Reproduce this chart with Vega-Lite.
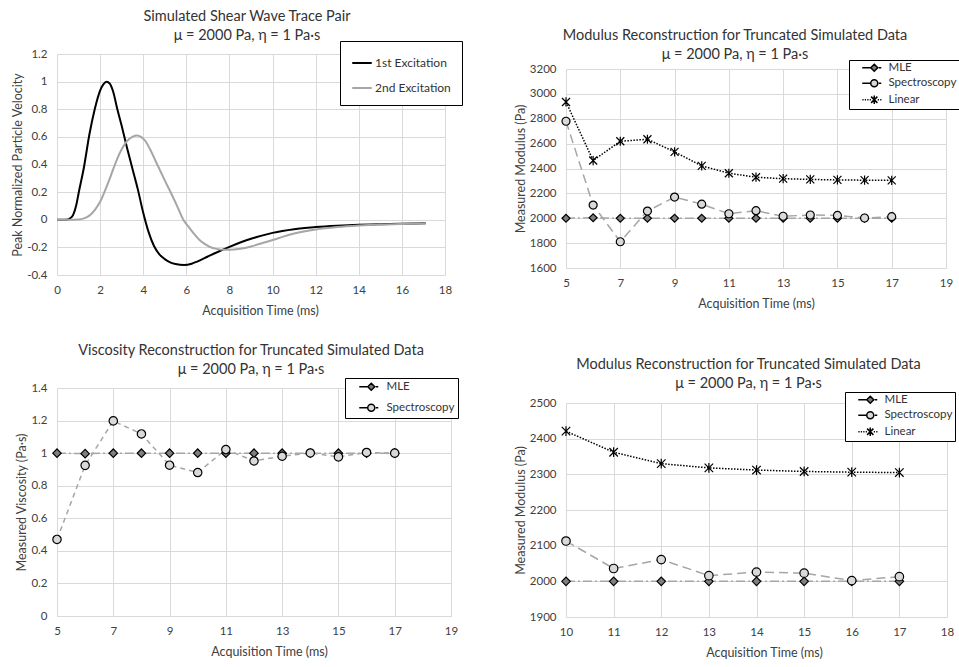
{
  "$schema": "https://vega.github.io/schema/vega-lite/v6.json",
  "background": "white",
  "padding": {"left": 11, "top": 8, "right": 0, "bottom": 0},
  "datasets": {
    "waves": [
      {"t": 0, "v": 0, "s": "1st Excitation"},
      {"t": 0.25, "v": 0, "s": "1st Excitation"},
      {"t": 0.5, "v": 0.002, "s": "1st Excitation"},
      {"t": 0.6, "v": 0.01, "s": "1st Excitation"},
      {"t": 0.75, "v": 0.035, "s": "1st Excitation"},
      {"t": 0.9, "v": 0.11, "s": "1st Excitation"},
      {"t": 1.0, "v": 0.19, "s": "1st Excitation"},
      {"t": 1.25, "v": 0.38, "s": "1st Excitation"},
      {"t": 1.5, "v": 0.615, "s": "1st Excitation"},
      {"t": 1.75, "v": 0.8, "s": "1st Excitation"},
      {"t": 2.0, "v": 0.935, "s": "1st Excitation"},
      {"t": 2.15, "v": 0.98, "s": "1st Excitation"},
      {"t": 2.3, "v": 1.0, "s": "1st Excitation"},
      {"t": 2.45, "v": 0.985, "s": "1st Excitation"},
      {"t": 2.6, "v": 0.93, "s": "1st Excitation"},
      {"t": 2.8, "v": 0.8, "s": "1st Excitation"},
      {"t": 3.0, "v": 0.68, "s": "1st Excitation"},
      {"t": 3.25, "v": 0.52, "s": "1st Excitation"},
      {"t": 3.5, "v": 0.37, "s": "1st Excitation"},
      {"t": 3.75, "v": 0.22, "s": "1st Excitation"},
      {"t": 4.0, "v": 0.05, "s": "1st Excitation"},
      {"t": 4.25, "v": -0.09, "s": "1st Excitation"},
      {"t": 4.5, "v": -0.19, "s": "1st Excitation"},
      {"t": 4.75, "v": -0.25, "s": "1st Excitation"},
      {"t": 5.0, "v": -0.285, "s": "1st Excitation"},
      {"t": 5.25, "v": -0.308, "s": "1st Excitation"},
      {"t": 5.5, "v": -0.321, "s": "1st Excitation"},
      {"t": 5.9, "v": -0.328, "s": "1st Excitation"},
      {"t": 6.25, "v": -0.318, "s": "1st Excitation"},
      {"t": 6.5, "v": -0.303, "s": "1st Excitation"},
      {"t": 7.0, "v": -0.266, "s": "1st Excitation"},
      {"t": 7.5, "v": -0.23, "s": "1st Excitation"},
      {"t": 8.0, "v": -0.196, "s": "1st Excitation"},
      {"t": 8.5, "v": -0.165, "s": "1st Excitation"},
      {"t": 9.0, "v": -0.138, "s": "1st Excitation"},
      {"t": 9.5, "v": -0.115, "s": "1st Excitation"},
      {"t": 10, "v": -0.095, "s": "1st Excitation"},
      {"t": 11, "v": -0.068, "s": "1st Excitation"},
      {"t": 12, "v": -0.053, "s": "1st Excitation"},
      {"t": 13, "v": -0.043, "s": "1st Excitation"},
      {"t": 14, "v": -0.036, "s": "1st Excitation"},
      {"t": 15, "v": -0.032, "s": "1st Excitation"},
      {"t": 16, "v": -0.029, "s": "1st Excitation"},
      {"t": 17.1, "v": -0.026, "s": "1st Excitation"},
      {"t": 0, "v": 0, "s": "2nd Excitation"},
      {"t": 0.5, "v": 0, "s": "2nd Excitation"},
      {"t": 1.0, "v": 0.002, "s": "2nd Excitation"},
      {"t": 1.25, "v": 0.01, "s": "2nd Excitation"},
      {"t": 1.5, "v": 0.03, "s": "2nd Excitation"},
      {"t": 1.75, "v": 0.07, "s": "2nd Excitation"},
      {"t": 2.0, "v": 0.13, "s": "2nd Excitation"},
      {"t": 2.25, "v": 0.22, "s": "2nd Excitation"},
      {"t": 2.5, "v": 0.32, "s": "2nd Excitation"},
      {"t": 2.75, "v": 0.425, "s": "2nd Excitation"},
      {"t": 3.0, "v": 0.51, "s": "2nd Excitation"},
      {"t": 3.25, "v": 0.57, "s": "2nd Excitation"},
      {"t": 3.5, "v": 0.6, "s": "2nd Excitation"},
      {"t": 3.7, "v": 0.61, "s": "2nd Excitation"},
      {"t": 3.9, "v": 0.6, "s": "2nd Excitation"},
      {"t": 4.1, "v": 0.57, "s": "2nd Excitation"},
      {"t": 4.35, "v": 0.5, "s": "2nd Excitation"},
      {"t": 4.65, "v": 0.4, "s": "2nd Excitation"},
      {"t": 5.0, "v": 0.285, "s": "2nd Excitation"},
      {"t": 5.3, "v": 0.19, "s": "2nd Excitation"},
      {"t": 5.6, "v": 0.09, "s": "2nd Excitation"},
      {"t": 5.86, "v": 0.0, "s": "2nd Excitation"},
      {"t": 6.1, "v": -0.05, "s": "2nd Excitation"},
      {"t": 6.35, "v": -0.1, "s": "2nd Excitation"},
      {"t": 6.6, "v": -0.145, "s": "2nd Excitation"},
      {"t": 6.85, "v": -0.175, "s": "2nd Excitation"},
      {"t": 7.1, "v": -0.197, "s": "2nd Excitation"},
      {"t": 7.4, "v": -0.211, "s": "2nd Excitation"},
      {"t": 7.75, "v": -0.218, "s": "2nd Excitation"},
      {"t": 8.0, "v": -0.218, "s": "2nd Excitation"},
      {"t": 8.5, "v": -0.21, "s": "2nd Excitation"},
      {"t": 9.0, "v": -0.193, "s": "2nd Excitation"},
      {"t": 9.5, "v": -0.17, "s": "2nd Excitation"},
      {"t": 10, "v": -0.147, "s": "2nd Excitation"},
      {"t": 10.5, "v": -0.122, "s": "2nd Excitation"},
      {"t": 11, "v": -0.1, "s": "2nd Excitation"},
      {"t": 12, "v": -0.07, "s": "2nd Excitation"},
      {"t": 13, "v": -0.052, "s": "2nd Excitation"},
      {"t": 14, "v": -0.041, "s": "2nd Excitation"},
      {"t": 15, "v": -0.034, "s": "2nd Excitation"},
      {"t": 16, "v": -0.03, "s": "2nd Excitation"},
      {"t": 17.1, "v": -0.027, "s": "2nd Excitation"}
    ],
    "modulus": [
      {"t": 5, "v": 2000, "s": "MLE"},
      {"t": 6, "v": 2004, "s": "MLE"},
      {"t": 7, "v": 2000, "s": "MLE"},
      {"t": 8, "v": 2000, "s": "MLE"},
      {"t": 9, "v": 2000, "s": "MLE"},
      {"t": 10, "v": 2000, "s": "MLE"},
      {"t": 11, "v": 2000, "s": "MLE"},
      {"t": 12, "v": 2000, "s": "MLE"},
      {"t": 13, "v": 2000, "s": "MLE"},
      {"t": 14, "v": 2000, "s": "MLE"},
      {"t": 15, "v": 2000, "s": "MLE"},
      {"t": 16, "v": 2000, "s": "MLE"},
      {"t": 17, "v": 2000, "s": "MLE"},
      {"t": 5, "v": 2935, "s": "Linear"},
      {"t": 6, "v": 2464, "s": "Linear"},
      {"t": 7, "v": 2619, "s": "Linear"},
      {"t": 8, "v": 2635, "s": "Linear"},
      {"t": 9, "v": 2534, "s": "Linear"},
      {"t": 10, "v": 2421, "s": "Linear"},
      {"t": 11, "v": 2362, "s": "Linear"},
      {"t": 12, "v": 2330, "s": "Linear"},
      {"t": 13, "v": 2318, "s": "Linear"},
      {"t": 14, "v": 2312, "s": "Linear"},
      {"t": 15, "v": 2308, "s": "Linear"},
      {"t": 16, "v": 2306, "s": "Linear"},
      {"t": 17, "v": 2305, "s": "Linear"},
      {"t": 5, "v": 2780, "s": "Spectroscopy"},
      {"t": 6, "v": 2106, "s": "Spectroscopy"},
      {"t": 7, "v": 1811, "s": "Spectroscopy"},
      {"t": 8, "v": 2058, "s": "Spectroscopy"},
      {"t": 9, "v": 2170, "s": "Spectroscopy"},
      {"t": 10, "v": 2113, "s": "Spectroscopy"},
      {"t": 11, "v": 2036, "s": "Spectroscopy"},
      {"t": 12, "v": 2061, "s": "Spectroscopy"},
      {"t": 13, "v": 2016, "s": "Spectroscopy"},
      {"t": 14, "v": 2026, "s": "Spectroscopy"},
      {"t": 15, "v": 2023, "s": "Spectroscopy"},
      {"t": 16, "v": 2002, "s": "Spectroscopy"},
      {"t": 17, "v": 2013, "s": "Spectroscopy"}
    ],
    "visc": [
      {"t": 5, "v": 1.0, "s": "MLE"},
      {"t": 6, "v": 0.997, "s": "MLE"},
      {"t": 7, "v": 1.0, "s": "MLE"},
      {"t": 8, "v": 1.0, "s": "MLE"},
      {"t": 9, "v": 1.0, "s": "MLE"},
      {"t": 10, "v": 1.0, "s": "MLE"},
      {"t": 11, "v": 1.0, "s": "MLE"},
      {"t": 12, "v": 1.0, "s": "MLE"},
      {"t": 13, "v": 1.0, "s": "MLE"},
      {"t": 14, "v": 1.0, "s": "MLE"},
      {"t": 15, "v": 1.0, "s": "MLE"},
      {"t": 16, "v": 1.0, "s": "MLE"},
      {"t": 17, "v": 1.0, "s": "MLE"},
      {"t": 5, "v": 0.47, "s": "Spectroscopy"},
      {"t": 6, "v": 0.925, "s": "Spectroscopy"},
      {"t": 7, "v": 1.198, "s": "Spectroscopy"},
      {"t": 8, "v": 1.118, "s": "Spectroscopy"},
      {"t": 9, "v": 0.926, "s": "Spectroscopy"},
      {"t": 10, "v": 0.881, "s": "Spectroscopy"},
      {"t": 11, "v": 1.022, "s": "Spectroscopy"},
      {"t": 12, "v": 0.952, "s": "Spectroscopy"},
      {"t": 13, "v": 0.981, "s": "Spectroscopy"},
      {"t": 14, "v": 1.001, "s": "Spectroscopy"},
      {"t": 15, "v": 0.977, "s": "Spectroscopy"},
      {"t": 16, "v": 1.004, "s": "Spectroscopy"},
      {"t": 17, "v": 1.0, "s": "Spectroscopy"}
    ]
  },
  "config": {
    "font": "Lato",
    "view": {"stroke": null},
    "axis": {"grid": true, "gridColor": "#d9d9d9", "gridWidth": 1, "domain": false, "ticks": false, "labelFont": "Lato", "labelFontSize": 11.5, "labelColor": "#404040", "titleFont": "Lato", "titleFontSize": 12.5, "titleFontWeight": "normal", "titleColor": "#404040", "labelOverlap": false},
    "axisX": {"labelPadding": 9, "titlePadding": 9, "labelFlush": false},
    "axisY": {"labelPadding": 10, "titlePadding": 2},
    "title": {"font": "Lato", "fontSize": 14.5, "fontWeight": "normal", "color": "#333333", "lineHeight": 19},
    "legend": {"labelFont": "Lato", "labelFontSize": 11.5, "labelColor": "#333333"}
  },
  "spacing": 51,
  "resolve": {"scale": {"stroke": "independent", "strokeDash": "independent", "shape": "independent", "fill": "independent"}, "legend": {"stroke": "independent", "strokeDash": "independent", "shape": "independent", "fill": "independent"}},
  "hconcat": [
    {
      "spacing": 0,
      "resolve": {"scale": {"stroke": "independent", "strokeDash": "independent", "shape": "independent", "fill": "independent"}, "legend": {"stroke": "independent", "strokeDash": "independent", "shape": "independent", "fill": "independent"}},
      "vconcat": [
        {"width": 1, "height": 1, "view": {"fill": "white", "stroke": null}, "data": {"values": []}, "mark": "point"},
        {
          "spacing": 26,
          "resolve": {"scale": {"stroke": "independent", "strokeDash": "independent", "shape": "independent", "fill": "independent"}, "legend": {"stroke": "independent", "strokeDash": "independent", "shape": "independent", "fill": "independent"}},
          "vconcat": [
            {
              "width": 388, "height": 221,
              "data": {"name": "waves"},
              "title": {"text": ["Simulated Shear Wave Trace Pair", "μ = 2000 Pa, η = 1 Pa·s"], "frame": "group", "anchor": "middle", "offset": -3, "dx": -4},
              "mark": {"type": "line", "interpolate": "monotone", "strokeWidth": 2},
              "encoding": {
                "x": {"field": "t", "type": "quantitative", "scale": {"domain": [0, 18], "nice": false}, "axis": {"values": [0, 2, 4, 6, 8, 10, 12, 14, 16, 18], "title": "Acquisition Time (ms)", "titleX": 203}},
                "y": {"field": "v", "type": "quantitative", "scale": {"domain": [-0.4, 1.2], "nice": false, "zero": false}, "axis": {"values": [-0.4, -0.2, 0, 0.2, 0.4, 0.6, 0.8, 1, 1.2], "labelExpr": "replace(format(datum.value, '~g'), '\u2212', '-')", "title": "Peak Normalized Particle Velocity"}},
                "stroke": {"field": "s", "type": "nominal", "scale": {"domain": ["1st Excitation", "2nd Excitation"], "range": ["#000000", "#a6a6a6"]}, "legend": {"orient": "none", "legendX": 283, "legendY": -13, "title": null, "strokeColor": "black", "fillColor": "white", "padding": 11, "rowPadding": 8, "symbolType": "stroke", "symbolSize": 380, "symbolStrokeWidth": 2, "labelOffset": 2, "labelFontSize": 12}}
              }
            },
            {
              "width": 394, "height": 228,
              "data": {"name": "visc"},
              "title": {"text": ["Viscosity Reconstruction for Truncated Simulated Data", "μ = 2000 Pa, η = 1 Pa·s"], "frame": "group", "anchor": "middle", "offset": 0, "dx": -3},
              "encoding": {
                "x": {"field": "t", "type": "quantitative", "scale": {"domain": [5, 19], "nice": false, "zero": false}, "axis": {"values": [5, 7, 9, 11, 13, 15, 17, 19], "title": "Acquisition Time (ms)", "titleX": 212}},
                "y": {"field": "v", "type": "quantitative", "scale": {"domain": [0, 1.4], "nice": false}, "axis": {"values": [0, 0.2, 0.4, 0.6, 0.8, 1, 1.2, 1.4], "format": "~g", "title": "Measured Viscosity (Pa·s)"}}
              },
              "layer": [
                {"mark": {"type": "line", "strokeWidth": 1.5},
                 "encoding": {
                   "stroke": {"field": "s", "type": "nominal", "scale": {"domain": ["MLE", "Spectroscopy"], "range": ["#a6a6a6", "#a6a6a6"]}, "legend": null},
                   "strokeDash": {"field": "s", "type": "nominal", "scale": {"domain": ["MLE", "Spectroscopy"], "range": [[9, 3, 2, 3], [5, 4]]}, "legend": null}
                 }},
                {"mark": {"type": "point", "filled": true, "opacity": 1, "size": 70, "stroke": "black", "strokeWidth": 1.2},
                 "encoding": {
                   "shape": {"field": "s", "type": "nominal", "scale": {"domain": ["MLE", "Spectroscopy"], "range": ["diamond", "circle"]}, "legend": null},
                   "fill": {"field": "s", "type": "nominal", "scale": {"domain": ["MLE", "Spectroscopy"], "range": ["#7f7f7f", "#d9d9d9"]}, "legend": null}
                 }},
                {"data": {"values": []},
                 "mark": {"type": "point", "filled": true, "opacity": 1, "size": 49, "stroke": "black", "strokeWidth": 1.1},
                 "encoding": {
                   "shape": {"field": "s", "type": "nominal", "scale": {"domain": ["MLE", "Spectroscopy"], "range": ["M1.57,0L4,0M6.3,0L7,0M5,-1L6,0L5,1L4,0Z", "M1.57,0L4,0M6.3,0L7,0M6,0A1,1,0,1,1,4,0A1,1,0,1,1,6,0Z"]}, "legend": {"orient": "none", "legendX": 288, "legendY": -10, "title": null, "strokeColor": "black", "fillColor": "white", "padding": 3, "rowPadding": 7, "labelOffset": 27, "symbolSize": 49, "labelExpr": "datum.label + '     '", "encode": {"symbols": {"update": {"stroke": {"value": "black"}, "strokeWidth": {"value": 1.1}}}}}},
                   "fill": {"field": "s", "type": "nominal", "scale": {"domain": ["MLE", "Spectroscopy"], "range": ["#7f7f7f", "#d9d9d9"]}, "legend": {"orient": "none", "legendX": 288, "legendY": -10, "title": null, "strokeColor": "black", "fillColor": "white", "padding": 3, "rowPadding": 7, "labelOffset": 27, "symbolSize": 49, "labelExpr": "datum.label + '     '", "encode": {"symbols": {"update": {"stroke": {"value": "black"}, "strokeWidth": {"value": 1.1}}}}}}
                 }}
              ],
              "resolve": {"scale": {"shape": "independent", "fill": "independent"}, "legend": {"shape": "independent", "fill": "independent"}}
            }
          ]
        }
      ]
    },
    {
      "spacing": 19,
      "resolve": {"scale": {"stroke": "independent", "strokeDash": "independent", "shape": "independent", "fill": "independent"}, "legend": {"stroke": "independent", "strokeDash": "independent", "shape": "independent", "fill": "independent"}},
      "vconcat": [
        {"width": 1, "height": 1, "view": {"fill": "white", "stroke": null}, "data": {"values": []}, "mark": "point"},
        {
          "spacing": 47,
          "resolve": {"scale": {"stroke": "independent", "strokeDash": "independent", "shape": "independent", "fill": "independent"}, "legend": {"stroke": "independent", "strokeDash": "independent", "shape": "independent", "fill": "independent"}},
          "vconcat": [
            {
              "width": 380, "height": 199,
              "data": {"name": "modulus"},
              "title": {"text": ["Modulus Reconstruction for Truncated Simulated Data", "μ = 2000 Pa, η = 1 Pa·s"], "frame": "group", "anchor": "middle", "offset": -3, "dx": -21},
              "encoding": {
                "x": {"field": "t", "type": "quantitative", "scale": {"domain": [5, 19], "nice": false, "zero": false}, "axis": {"values": [5, 7, 9, 11, 13, 15, 17, 19], "title": "Acquisition Time (ms)", "titleX": 190}},
                "y": {"field": "v", "type": "quantitative", "scale": {"domain": [1600, 3200], "nice": false, "zero": false}, "axis": {"values": [1600, 1800, 2000, 2200, 2400, 2600, 2800, 3000, 3200], "format": "d", "title": "Measured Modulus (Pa)"}}
              },
              "layer": [
                {"mark": {"type": "line", "strokeWidth": 1.5},
                 "encoding": {
                   "stroke": {"field": "s", "type": "nominal", "scale": {"domain": ["MLE", "Spectroscopy", "Linear"], "range": ["#a6a6a6", "#a6a6a6", "#000000"]}, "legend": null},
                   "strokeDash": {"field": "s", "type": "nominal", "scale": {"domain": ["MLE", "Spectroscopy", "Linear"], "range": [[9, 3, 2, 3], [9, 5], [1.5, 1.5]]}, "legend": null}
                 }},
                {"mark": {"type": "point", "filled": true, "opacity": 1, "size": 64, "stroke": "black", "strokeWidth": 1.2},
                 "encoding": {
                   "shape": {"field": "s", "type": "nominal", "scale": {"domain": ["MLE", "Spectroscopy", "Linear"], "range": ["diamond", "circle", "M-1,-1L1,1M-1,1L1,-1M0,-1.15L0,1.15"]}, "legend": null},
                   "fill": {"field": "s", "type": "nominal", "scale": {"domain": ["MLE", "Spectroscopy", "Linear"], "range": ["#7f7f7f", "#d9d9d9", "#000000"]}, "legend": null}
                 }},
                {"data": {"values": []},
                 "mark": {"type": "point", "filled": true, "opacity": 1, "size": 49, "stroke": "black", "strokeWidth": 1.1},
                 "encoding": {
                   "shape": {"field": "s", "type": "nominal", "scale": {"domain": ["MLE", "Spectroscopy", "Linear"], "range": ["M1.57,0L4,0M6.3,0L7,0M5,-1L6,0L5,1L4,0Z", "M1.57,0L4,0M6.3,0L7,0M6,0A1,1,0,1,1,4,0A1,1,0,1,1,6,0Z", "M1.6,0L1.95,0M2.3,0L2.65,0M3,0L3.35,0M3.7,0L4.05,0M6,0L6.35,0M6.7,0L7.05,0M4.1,-0.9L5.9,0.9M4.1,0.9L5.9,-0.9M5,-1.2L5,1.2"]}, "legend": {"orient": "none", "legendX": 283, "legendY": -9, "title": null, "strokeColor": "black", "fillColor": "white", "padding": 2, "rowPadding": 1.5, "labelOffset": 26, "symbolSize": 49, "encode": {"symbols": {"update": {"stroke": {"value": "black"}, "strokeWidth": {"value": 1.1}}}}}},
                   "fill": {"field": "s", "type": "nominal", "scale": {"domain": ["MLE", "Spectroscopy", "Linear"], "range": ["#7f7f7f", "#d9d9d9", "#000000"]}, "legend": {"orient": "none", "legendX": 283, "legendY": -9, "title": null, "strokeColor": "black", "fillColor": "white", "padding": 2, "rowPadding": 1.5, "labelOffset": 26, "symbolSize": 49, "encode": {"symbols": {"update": {"stroke": {"value": "black"}, "strokeWidth": {"value": 1.1}}}}}}
                 }}
              ],
              "resolve": {"scale": {"shape": "independent", "fill": "independent"}, "legend": {"shape": "independent", "fill": "independent"}}
            },
            {
              "width": 381, "height": 214,
              "data": {"name": "modulus"},
              "transform": [{"filter": "datum.t >= 10"}],
              "title": {"text": ["Modulus Reconstruction for Truncated Simulated Data", "μ = 2000 Pa, η = 1 Pa·s"], "frame": "group", "anchor": "middle", "offset": 0, "dx": -8},
              "encoding": {
                "x": {"field": "t", "type": "quantitative", "scale": {"domain": [10, 18], "nice": false, "zero": false}, "axis": {"values": [10, 11, 12, 13, 14, 15, 16, 17, 18], "title": "Acquisition Time (ms)", "titleX": 198}},
                "y": {"field": "v", "type": "quantitative", "scale": {"domain": [1900, 2500], "nice": false, "zero": false}, "axis": {"values": [1900, 2000, 2100, 2200, 2300, 2400, 2500], "format": "d", "title": "Measured Modulus (Pa)"}}
              },
              "layer": [
                {"mark": {"type": "line", "strokeWidth": 1.5},
                 "encoding": {
                   "stroke": {"field": "s", "type": "nominal", "scale": {"domain": ["MLE", "Spectroscopy", "Linear"], "range": ["#a6a6a6", "#a6a6a6", "#000000"]}, "legend": null},
                   "strokeDash": {"field": "s", "type": "nominal", "scale": {"domain": ["MLE", "Spectroscopy", "Linear"], "range": [[9, 3, 2, 3], [9, 5], [1.5, 1.5]]}, "legend": null}
                 }},
                {"mark": {"type": "point", "filled": true, "opacity": 1, "size": 72, "stroke": "black", "strokeWidth": 1.2},
                 "encoding": {
                   "shape": {"field": "s", "type": "nominal", "scale": {"domain": ["MLE", "Spectroscopy", "Linear"], "range": ["diamond", "circle", "M-1,-1L1,1M-1,1L1,-1M0,-1.15L0,1.15"]}, "legend": null},
                   "fill": {"field": "s", "type": "nominal", "scale": {"domain": ["MLE", "Spectroscopy", "Linear"], "range": ["#7f7f7f", "#d9d9d9", "#000000"]}, "legend": null}
                 }},
                {"data": {"values": []},
                 "mark": {"type": "point", "filled": true, "opacity": 1, "size": 49, "stroke": "black", "strokeWidth": 1.1},
                 "encoding": {
                   "shape": {"field": "s", "type": "nominal", "scale": {"domain": ["MLE", "Spectroscopy", "Linear"], "range": ["M1.57,0L4,0M6.3,0L7,0M5,-1L6,0L5,1L4,0Z", "M1.57,0L4,0M6.3,0L7,0M6,0A1,1,0,1,1,4,0A1,1,0,1,1,6,0Z", "M1.6,0L1.95,0M2.3,0L2.65,0M3,0L3.35,0M3.7,0L4.05,0M6,0L6.35,0M6.7,0L7.05,0M4.1,-0.9L5.9,0.9M4.1,0.9L5.9,-0.9M5,-1.2L5,1.2"]}, "legend": {"orient": "none", "legendX": 279, "legendY": -11, "title": null, "strokeColor": "black", "fillColor": "white", "padding": 2, "rowPadding": 1.5, "labelOffset": 26, "symbolSize": 49, "encode": {"symbols": {"update": {"stroke": {"value": "black"}, "strokeWidth": {"value": 1.1}}}}}},
                   "fill": {"field": "s", "type": "nominal", "scale": {"domain": ["MLE", "Spectroscopy", "Linear"], "range": ["#7f7f7f", "#d9d9d9", "#000000"]}, "legend": {"orient": "none", "legendX": 279, "legendY": -11, "title": null, "strokeColor": "black", "fillColor": "white", "padding": 2, "rowPadding": 1.5, "labelOffset": 26, "symbolSize": 49, "encode": {"symbols": {"update": {"stroke": {"value": "black"}, "strokeWidth": {"value": 1.1}}}}}}
                 }}
              ],
              "resolve": {"scale": {"shape": "independent", "fill": "independent"}, "legend": {"shape": "independent", "fill": "independent"}}
            }
          ]
        }
      ]
    }
  ]
}
